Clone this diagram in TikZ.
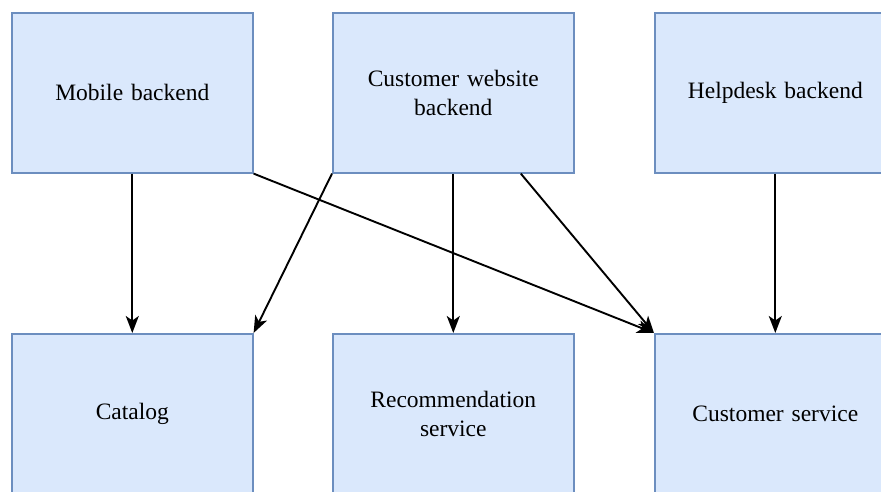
\documentclass[tikz,border=0pt]{standalone}
\usepackage{fontspec}
\setmainfont{Liberation Serif}
\usetikzlibrary{arrows.meta}

\definecolor{boxfill}{HTML}{DAE8FC}
\definecolor{boxline}{HTML}{6C8EBF}

\tikzset{
  svc/.style={draw=boxline, fill=boxfill, line width=1.6pt, rectangle,
    minimum width=241pt, minimum height=160pt, inner sep=0pt,
    align=center, text width=225pt,
    font=\fontsize{23.5pt}{29pt}\selectfont},
  link/.style={line width=1.9pt, -{Stealth[length=17pt, width=13pt, inset=4.5pt]}}
}

\begin{document}
\begin{tikzpicture}[x=1pt, y=1pt]
  \useasboundingbox (0,0) rectangle (881,-491);
  \clip (0,0) rectangle (881,-491);

  % upper row: backends
  \node[svc, anchor=north west] (mob)  at (11,-12)  {Mobile backend};
  \node[svc, anchor=north west] (web)  at (332,-12) {Customer website\\backend};
  \node[svc, anchor=north west] (help) at (654,-12) {Helpdesk backend};

  % lower row: services
  \node[svc, anchor=north west] (cat)  at (11,-333)  {Catalog};
  \node[svc, anchor=north west] (rec)  at (332,-333) {Recommendation\\service};
  \node[svc, anchor=north west] (cs)   at (654,-333) {Customer service};

  % dependencies
  \draw[link] (mob.south) -- (cat.north);
  \draw[link] (mob.south east) -- (cs.north west);
  \draw[link] (web.south west) -- (cat.north east);
  \draw[link] (web.south) -- (rec.north);
  \draw[link] ([xshift=67.5pt]web.south) -- (cs.north west);
  \draw[link] (help.south) -- (cs.north);
\end{tikzpicture}
\end{document}
